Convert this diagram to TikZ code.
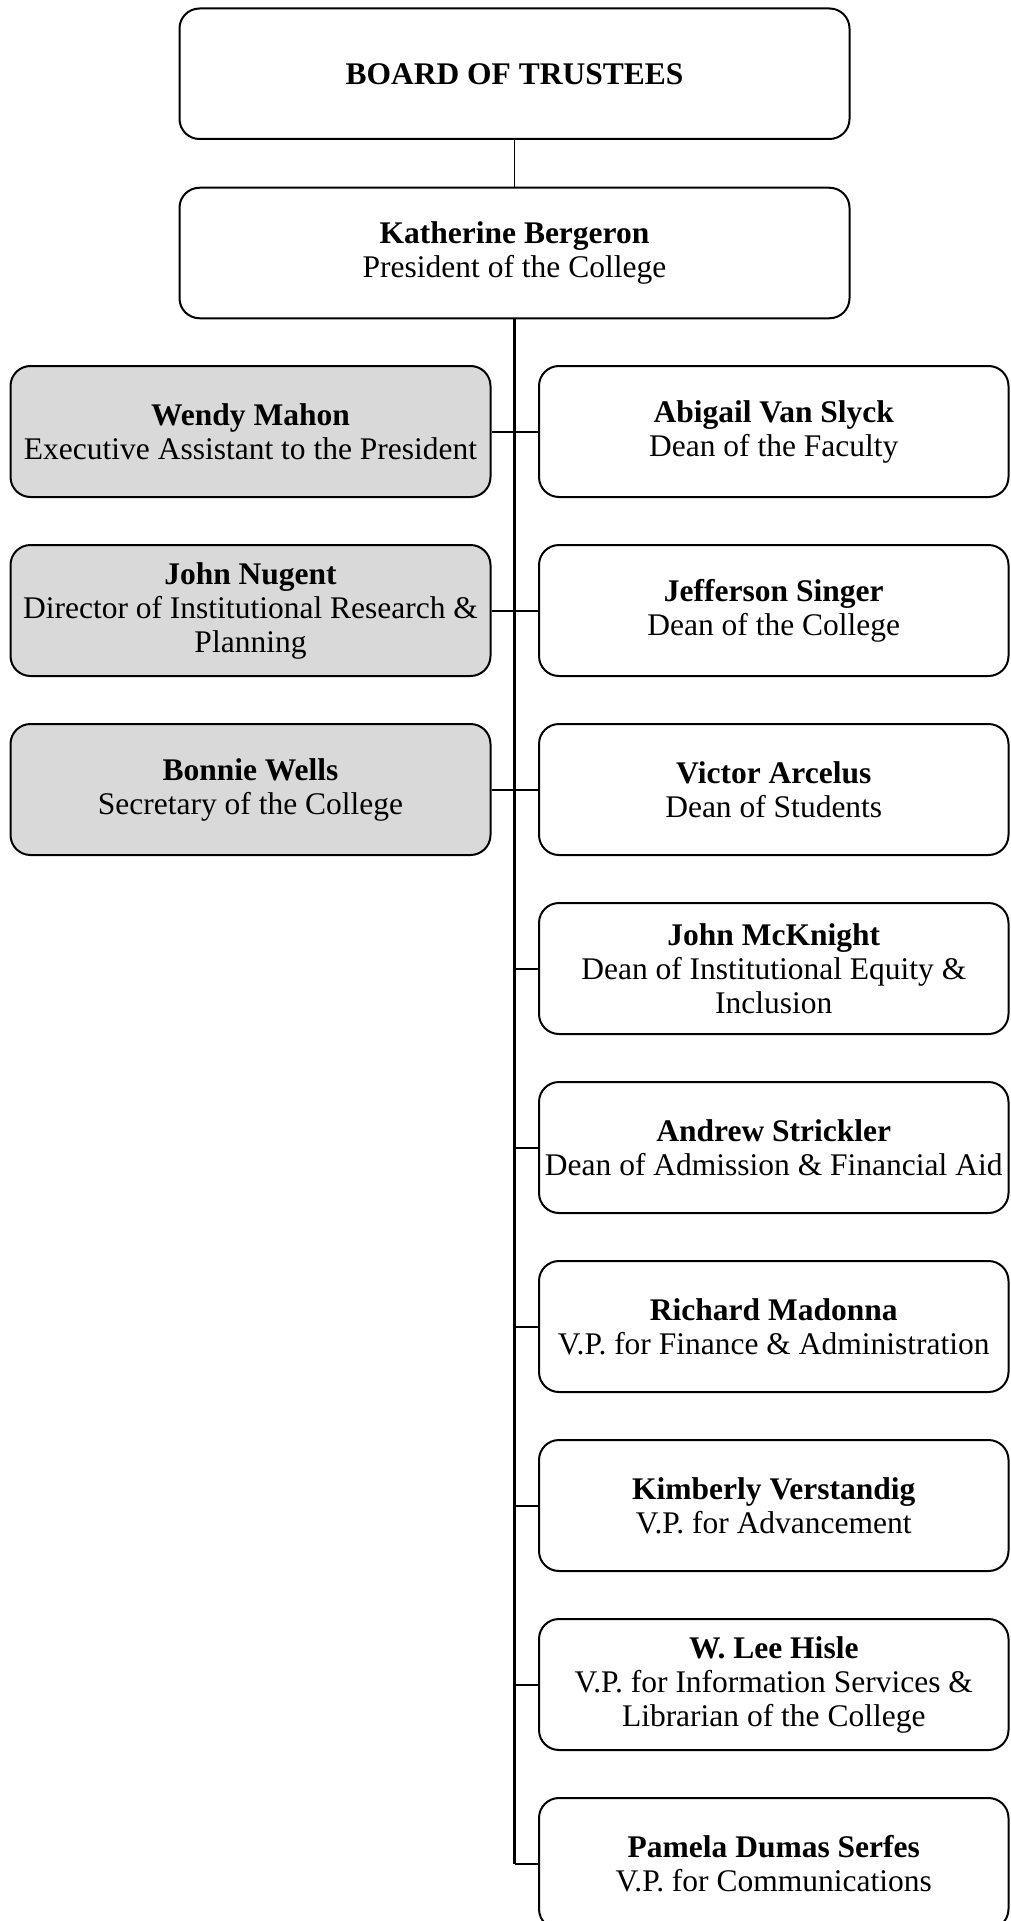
\documentclass[tikz,border=0pt]{standalone}
\usepackage{fontspec}
\setmainfont{Liberation Serif}
\begin{document}
\begin{tikzpicture}[x=1pt,y=-1pt,
  box/.style={draw=black, line width=2pt, rounded corners=20pt, inner sep=0pt,
    align=center, font=\fontsize{31.5}{34}\selectfont, fill=white},
  topbox/.style={box, minimum width=670pt, minimum height=130.5pt},
  leftbox/.style={box, fill=boxgray, minimum width=480pt, minimum height=131pt},
  rightbox/.style={box, minimum width=469.5pt, minimum height=131pt},
  trunk/.style={line width=3pt},
  branch/.style={line width=2pt},
  thinline/.style={line width=1.5pt}]
\definecolor{boxgray}{HTML}{D9D9D9}
\useasboundingbox (0,0) rectangle (1010,1921);
\node[topbox] (board) at (514.5,73.75) {\textbf{BOARD OF TRUSTEES}};
\node[topbox] (pres) at (514.5,253) {\textbf{Katherine Bergeron}\\President of the College};
\node[leftbox] (l1) at (250.5,431.5) {\textbf{Wendy Mahon}\\Executive Assistant to the President};
\node[leftbox] (l2) at (250.5,610.5) {\textbf{John Nugent}\\Director of Institutional Research \&\\Planning};
\node[leftbox] (l3) at (250.5,789.5) {\textbf{Bonnie Wells}\\Secretary of the College};
\node[rightbox] (r1) at (773.75,431.5) {\textbf{Abigail Van Slyck}\\Dean of the Faculty};
\node[rightbox] (r2) at (773.75,610.5) {\textbf{Jefferson Singer}\\Dean of the College};
\node[rightbox] (r3) at (773.75,789.5) {\textbf{Victor Arcelus}\\Dean of Students};
\node[rightbox] (r4) at (773.75,968.5) {\textbf{John McKnight}\\Dean of Institutional Equity \&\\Inclusion};
\node[rightbox] (r5) at (773.75,1147.5) {\textbf{Andrew Strickler}\\Dean of Admission \& Financial Aid};
\node[rightbox] (r6) at (773.75,1326.5) {\textbf{Richard Madonna}\\V.P. for Finance \& Administration};
\node[rightbox] (r7) at (773.75,1505.5) {\textbf{Kimberly Verstandig}\\V.P. for Advancement};
\node[rightbox] (r8) at (773.75,1684.5) {\textbf{W. Lee Hisle}\\V.P. for Information Services \&\\Librarian of the College};
\node[rightbox] (r9) at (773.75,1863.5) {\textbf{Pamela Dumas Serfes}\\V.P. for Communications};
\draw[thinline] (board.south) -- (pres.north);
\draw[trunk] (pres.south) -- (r9.west -| pres.south);
\draw[branch] (l1.east) -- (r1.west);
\draw[branch] (l2.east) -- (r2.west);
\draw[branch] (l3.east) -- (r3.west);
\foreach \r in {r4,r5,r6,r7,r8,r9}{
  \draw[branch] (\r.west) -- (\r.west -| pres.south);
}
\end{tikzpicture}
\end{document}
